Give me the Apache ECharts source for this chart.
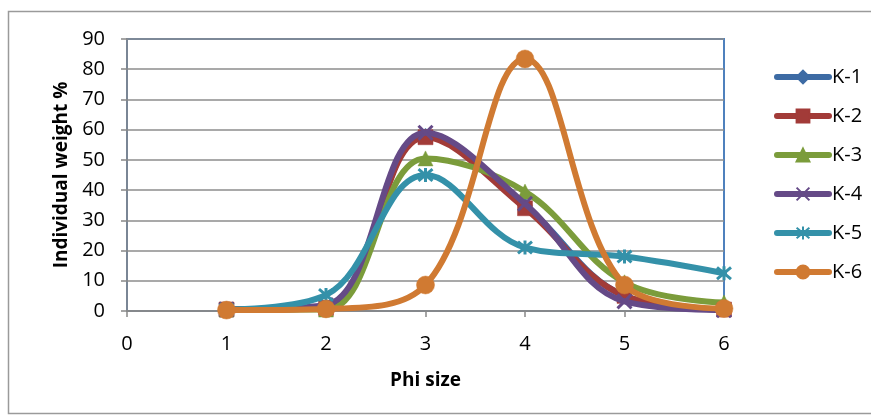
<!DOCTYPE html>
<html>
<head>
<meta charset="utf-8">
<script src="https://cdn.jsdelivr.net/npm/echarts@6/dist/echarts.min.js"></script>
<style>
  html, body { margin: 0; padding: 0; background: #fff; }
  #chart { width: 871px; height: 416px; }
</style>
</head>
<body>
<div id="chart"></div>
<script>
// Phi size classes and individual weight % per sample
const phiSize = [1, 2, 3, 4, 5, 6];
const xTicks = [0, 1, 2, 3, 4, 5, 6];
const yTicks = [0, 10, 20, 30, 40, 50, 60, 70, 80, 90];
const seriesNames = ['K-1', 'K-2', 'K-3', 'K-4', 'K-5', 'K-6'];
const k1 = [0.5, 1, 58, 35, 5, 0.5];
const k2 = [0.5, 1, 57.5, 34, 5, 0.5];
const k3 = [0.5, 0.5, 50.5, 39.5, 9.5, 2.8];
const k4 = [0.5, 2, 59, 35.5, 3.2, 0.3];
const k5 = [0.5, 5.3, 45, 21, 18, 12.5];
const k6 = [0.3, 0.7, 8.6, 83.4, 8.6, 0.8];

const colors = ['#3D6BA4', '#A23B38', '#7B9C3B', '#654A87', '#3491A9', '#D07A32'];
const symbols = [
  'diamond',
  'rect',
  'triangle',
  'path://M0,0L10,10M10,0L0,10',
  'path://M0,0L10,10M10,0L0,10M5,-1L5,11',
  'circle'
];
const symbolSizes = [15, 15, 15, 14, 14, 18];
const values = [k1, k2, k3, k4, k5, k6];
const LINE_W = 6;

const FONT = '"Open Sans", "Noto Sans", sans-serif';

const chart = echarts.init(document.getElementById('chart'), null, { renderer: 'canvas' });

const series = values.map((vals, i) => {
  const isStroke = i === 3 || i === 4;
  return {
    name: seriesNames[i],
    type: 'line',
    smooth: 0.38,
    data: phiSize.map((x, j) => [x, vals[j]]),
    symbol: symbols[i],
    symbolSize: symbolSizes[i],
    showAllSymbol: true,
    lineStyle: { color: colors[i], width: LINE_W, cap: 'round', join: 'round' },
    itemStyle: isStroke
      ? { color: colors[i], borderColor: colors[i], borderWidth: 3 }
      : { color: colors[i], borderColor: colors[i], borderWidth: 0.5 },
    emphasis: { disabled: true },
    z: 2 + i
  };
});

chart.setOption({
  animation: false,
  backgroundColor: '#fff',
  textStyle: { fontFamily: FONT },
  graphic: [{
    type: 'rect',
    shape: { x: 8.5, y: 11.5, width: 920, height: 402 },
    style: { fill: 'none', stroke: '#9a9a9a', lineWidth: 1.5 },
    silent: true,
    z: -10
  }],
  grid: {
    left: 127, right: 147, top: 39, bottom: 105,
    show: true, borderColor: '#4F81BD', borderWidth: 2, backgroundColor: 'transparent'
  },
  legend: {
    orient: 'vertical',
    left: 769,
    top: 62,
    itemWidth: 52,
    itemHeight: 16,
    itemGap: 19,
    data: seriesNames,
    lineStyle: { width: LINE_W, cap: 'round' },
    textStyle: { fontFamily: FONT, fontSize: 20, color: '#000', padding: [0, 0, 0, -2] },
    selectedMode: false
  },
  xAxis: {
    type: 'value',
    min: xTicks[0],
    max: xTicks[xTicks.length - 1],
    interval: 1,
    name: 'Phi size',
    nameLocation: 'middle',
    nameGap: 60,
    nameTextStyle: { fontFamily: FONT, fontWeight: 'bold', fontSize: 19, color: '#000' },
    axisLine: { show: true, onZero: false, lineStyle: { color: '#888', width: 1.5 } },
    axisTick: { show: true, inside: false, length: 6, lineStyle: { color: '#888', width: 1.5 } },
    axisLabel: { fontFamily: FONT, fontSize: 20, color: '#000', margin: 23 },
    splitLine: { show: false }
  },
  yAxis: {
    type: 'value',
    min: yTicks[0],
    max: yTicks[yTicks.length - 1],
    interval: 10,
    name: 'Individual weight %',
    nameLocation: 'middle',
    nameGap: 52,
    nameTextStyle: { fontFamily: FONT, fontWeight: 'bold', fontSize: 19, color: '#000' },
    axisLine: { show: true, lineStyle: { color: '#888', width: 1.5 } },
    axisTick: { show: true, inside: false, length: 6, lineStyle: { color: '#888', width: 1.5 } },
    axisLabel: { fontFamily: FONT, fontSize: 20, color: '#000', margin: 22 },
    splitLine: { show: true, lineStyle: { color: '#8c8c8c', width: 1.5 } }
  },
  series: series
});
</script>
</body>
</html>
